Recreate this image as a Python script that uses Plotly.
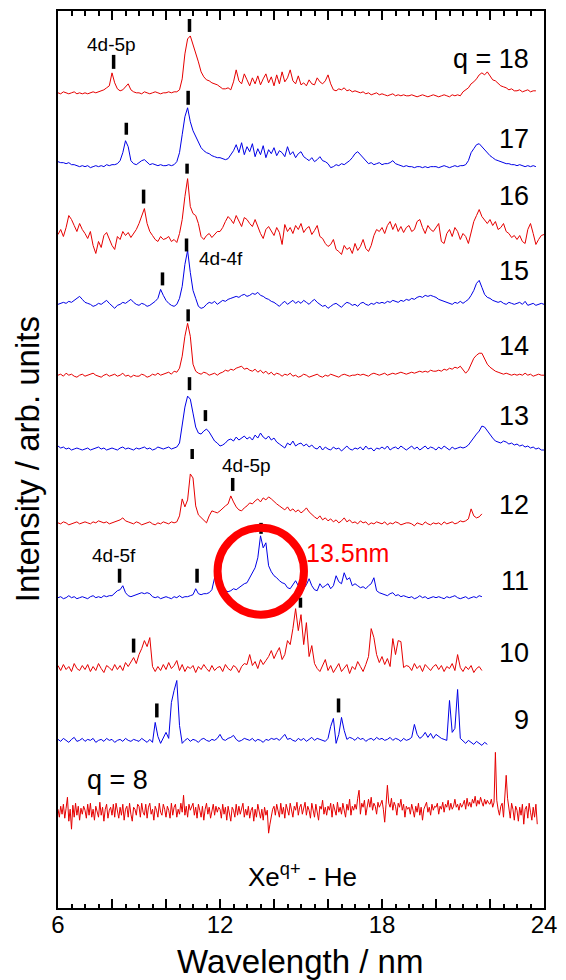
import numpy as np
import plotly.graph_objects as go

# ---------------- data (heights above each trace's own baseline, arb. units) ----------------
start = 6.0
step = 0.1          # sampling of most spectra (nm)
step_fine = 0.05    # sampling of the q = 8 spectrum (nm)

q18 = [1,0,2,1,0,1,2,0,1,0, 1,0,1,2,1,2,3,4,6,8, 21,11,5,3,4,7,10,4,2,1, 1,0,2,1,0,1,2,1,0,1,
       1,2,1,2,2,4,15,40,55,58, 50,40,32,22,17,14,13,11,10,9, 7,5,5,6,4,12,24,13,10,20,
       14,8,16,10,18,9,15,20,11,17, 8,19,10,22,12,16,24,13,10,18, 9,11,8,14,10,9,16,12,10,13,
       19,10,4,3,5,4,6,3,4,2, 3,2,1,2,0,1,-1,0,1,-1, 0,-1,-2,-1,0,-2,-1,-2,-1,-2,
       -2,-1,-2,-3,-2,-1,-2,-3,-2,-1, -2,-3,-2,-1,-2,-3,-1,-2,-1,-2, 2,4,6,10,12,15,19,21,19,22,
       18,14,13,10,8,7,6,4,5,3, 3,4,2,3,4,2,3,3]
q17 = [5,4,4,3,4,2,2,1,0,1, 0,1,-1,0,1,0,1,0,2,1, 2,2,3,6,14,26,20,6,3,2, 4,6,7,4,2,3,2,1,2,1,
       1,2,1,2,5,14,32,50,59,45, 36,30,24,19,16,14,13,11,10,9, 9,8,7,8,12,16,22,14,24,12,
       20,15,23,10,18,12,21,9,17,13, 19,11,16,14,10,20,12,15,9,13, 15,10,8,6,9,5,7,10,6,5,
       3,-1,0,2,1,3,2,4,6,9, 13,15,12,8,5,3,4,2,3,4, 2,3,3,4,6,3,2,1,0,1,
       0,0,-1,0,0,-1,0,-1,0,0, 0,-1,0,1,0,-1,0,1,0,1, 1,2,6,14,18,22,23,20,16,13,
       11,9,7,6,5,4,3,3,2,2, 1,2,1,0,1,0,1,0]
q16 = [7,12,5,14,26,22,16,10,18,12, 8,3,10,-4,-12,0,-6,6,9,2, -4,-8,5,2,10,6,9,4,8,12,
       18,26,33,18,10,6,2,0,5,2, 3,5,0,2,-1,8,22,45,63,35, 28,26,18,5,2,6,8,4,7,10,
       10,14,20,25,22,18,26,20,15,24, 22,18,15,22,14,8,3,12,15,10, 6,14,9,-3,17,10,14,8,16,12,
       18,9,13,15,7,11,16,5,3,-2, -5,-3,2,-8,-10,-13,-4,-8,-6,-12, -2,-9,-5,2,-7,-10,-4,6,12,10,
       14,8,16,20,12,18,10,15,9,14, 16,10,12,20,22,14,8,16,12,10, 14,18,0,-2,8,12,5,14,10,2,
       8,5,-2,10,20,26,32,25,22,18, 22,16,20,12,14,18,10,8,4,6, 2,6,0,-2,12,18,8,-3,2,6, 7]
q15 = [0,1,2,1,3,2,4,6,8,5, 2,1,0,-2,-1,1,0,2,4,1, -2,-4,-1,0,2,1,3,5,2,0, -1,1,0,-2,-1,1,3,6,15,9,
       4,1,-1,-2,0,6,18,40,54,32, 14,6,-2,-4,-3,0,2,1,3,0, 2,4,3,5,6,7,8,7,9,10,
       8,9,11,10,12,9,8,6,5,3, 2,0,-2,1,3,0,2,4,1,3, 1,4,2,0,3,5,2,0,-2,-1,
       -4,-2,0,1,-1,-3,0,2,1,-1, 0,-2,1,2,0,-1,1,0,2,1, 2,1,3,2,4,3,2,4,3,5,
       4,6,5,7,8,7,9,8,9,8, 7,5,4,3,2,1,0,2,1,3, 1,3,5,9,14,21,24,17,10,7,
       6,4,3,2,3,1,0,2,1,0, 1,2,0,3,-1,0,1,-1,0,1, 0]
q14 = [1,2,0,3,1,2,0,-1,1,2, 0,1,2,3,1,0,-1,1,2,0, 1,2,0,1,3,0,1,-1,1,0, 0,2,1,-1,0,2,1,3,1,2,
       3,4,2,5,4,8,20,40,53,40, 12,5,3,2,4,3,1,2,3,1, 3,4,6,5,7,6,8,9,10,7,
       8,6,5,7,4,6,3,5,2,4, 1,3,2,0,2,1,3,0,1,-1, 0,2,1,-1,0,1,2,0,-1,1,
       0,2,1,0,-1,1,2,1,0,1, 1,2,1,2,1,0,2,3,2,1, 2,3,1,2,3,2,3,4,3,2,
       3,4,3,4,5,4,5,4,6,5, 5,6,5,7,6,8,7,9,8,10, 7,3,6,12,18,21,23,23,18,12,
       9,7,5,4,3,2,3,2,1,2, 1,2,1,3,1,2,0,1,2,1, 1]
q13 = [3,1,2,0,1,-1,0,1,0,-1, 0,1,-1,0,1,2,0,1,-1,0, 1,0,-1,1,2,0,1,0,-1,1, 0,1,2,0,1,-1,0,2,1,0,
       1,2,0,1,2,6,22,42,53,50, 36,22,16,15,18,20,17,12,8,6, 3,4,6,9,10,8,12,9,11,13,
       10,12,9,14,11,16,12,10,13,9, 11,7,5,3,1,6,4,8,3,5, 6,3,5,2,4,1,0,3,-1,2,
       0,-1,2,0,1,-2,1,3,0,-1, 1,0,2,-1,3,0,1,-2,1,0, 2,0,3,-1,1,2,0,3,1,-1,
       1,3,0,2,-1,1,3,0,2,1, -1,2,0,3,1,-1,2,0,1,2, 1,2,4,8,12,15,18,23,22,18,
       15,11,8,7,6,8,7,5,6,4, 5,3,4,2,3,1,2,0,1,-1, -1]
q12 = [1,0,2,1,-1,0,1,2,0,1, 2,1,0,2,1,3,2,1,2,0, 1,2,3,4,6,3,2,1,0,2, 1,-1,0,1,2,0,-1,1,0,2,
       1,0,2,1,2,8,25,17,24,50, 46,18,9,6,3,1,8,13,12,11, 13,16,18,20,28,22,17,14,13,16,
       18,21,20,23,25,22,26,24,27,25, 22,20,18,16,14,17,13,15,12,14, 11,13,16,12,9,7,5,8,4,6,
       3,5,2,4,1,3,6,2,4,1, 2,0,3,1,2,-1,1,0,2,1, 0,2,-1,1,0,2,1,-1,0,1,
       1,0,-2,1,0,-1,2,0,-1,1, 0,1,-1,2,0,1,2,0,1,3, 2,3,5,15,8,6,7,10]
q11 = [0,1,-1,0,2,0,1,-1,0,1, 0,-1,1,2,0,1,0,2,1,2, 2,5,7,8,12,5,2,1,2,3, 4,5,4,5,4,1,0,1,-1,0,
       1,0,-1,1,0,2,0,1,1,2, 3,9,4,3,4,4,5,8,20,14, 10,8,7,6,7,9,8,10,12,14,
       15,20,24,30,40,62,50,55,32,26, 22,20,17,15,14,10,9,13,17,12, 7,9,13,19,12,8,7,14,10,12,
       14,9,12,22,16,14,25,18,20,12, 14,12,10,11,9,12,14,20,7,5, 4,3,2,4,5,2,3,1,2,1,
       0,1,-1,0,2,0,1,-1,0,1, 0,1,0,-1,1,0,1,2,0,-1, 0,1,-1,0,1,0,2,1]
q10 = [3,-2,4,-1,2,-3,5,0,-2,3, -1,4,-3,2,-2,5,0,-4,3,1, -2,4,-1,3,-2,6,2,7,11,5,
       14,20,28,22,31,2,-3,2,-2,4, -1,6,0,3,8,-2,4,-3,2,0, 3,-4,2,-1,4,0,-3,3,-2,1,
       2,-3,4,0,-2,3,1,-4,2,5, 4,14,3,7,0,9,4,8,12,18, 10,16,21,9,14,28,24,40,60,38,
       54,24,46,12,23,5,0,-3,4,9, -2,3,-4,1,5,-3,0,4,-5,2, -1,7,2,-3,4,12,40,31,14,6,
       12,4,10,2,30,14,28,27,1,3, 2,-2,5,0,3,-3,4,1,-2,2, 4,-1,3,-3,2,0,5,-2,14,1,
       -3,2,-1,3,-4,0,2,-2]
q9 = [1,-1,2,0,-2,1,3,-1,0,2, -1,1,0,2,-2,0,1,-1,2,0, 1,-2,0,1,-1,2,0,-1,1,0,
      -1,2,0,-2,1,-2,18,4,-3,3, 8,2,38,50,60,15,-3,0,2,-1, 1,0,-2,1,2,0,-1,1,0,2,
      6,1,0,2,3,5,1,-1,0,2, 1,0,2,-1,1,0,-2,1,0,2, 1,2,0,3,6,1,2,0,-1,2,
      0,2,-1,1,3,0,2,1,0,-1, 2,14,22,-3,6,23,10,1,3,2, 0,3,1,2,-1,1,2,0,3,1,
      2,0,1,3,0,2,1,-1,2,0, 1,3,16,6,2,4,8,3,7,2, 6,4,2,1,0,40,8,12,51,2,
      -1,-3,0,-2,-4,-1,-3,-5,-2,-4]
q8 = [3,-5,6,-2,8,-6,4,15,-9,3,-17,7,-5,9,-3,6,-8,4,-2,6,
      2,-6,8,-3,9,-5,3,-8,6,0,-5,10,-3,5,-9,3,8,-6,2,5,
      -3,8,-5,9,2,-6,5,-3,8,-8,3,6,-5,9,-2,-9,5,3,-3,8,
      6,-5,9,0,-3,8,-6,5,9,-2,3,-8,6,2,-5,9,0,-3,8,3,
      -5,6,2,-6,9,-3,5,8,-5,3,-2,9,0,17,-3,6,-5,8,2,5,
      9,-3,5,-6,8,2,-5,6,-8,3,9,-2,5,-6,3,8,-3,6,0,5,
      3,-6,8,-2,5,-8,6,0,-9,5,2,-5,8,-3,6,-2,5,9,-5,3,
      -3,6,-6,2,5,-9,3,-5,8,0,-6,3,-8,5,-3,2,-21,-12,-5,3,
      6,-3,8,2,-5,9,-2,5,-6,8,3,-3,9,0,-5,6,2,10,-3,5,
      8,-2,5,10,-3,6,2,-6,9,3,-5,8,0,-8,6,3,12,-2,5,-3,
      6,2,9,-5,8,3,-3,10,0,5,-2,9,3,-5,8,2,13,-3,6,2,
      8,3,14,22,-2,9,5,12,-3,8,13,5,15,2,9,6,-2,10,5,8,
      12,3,-10,8,27,9,5,14,2,10,6,-3,9,5,13,2,8,-5,6,3,
      5,-2,8,2,-5,6,0,9,-3,5,-8,3,6,10,0,5,-3,8,2,6,
      5,9,-2,6,3,10,0,8,5,12,2,9,3,6,13,5,8,2,9,5,
      8,12,3,14,6,10,5,13,9,16,6,12,8,15,10,6,13,8,12,9,
      8,13,5,10,60,12,3,-3,6,9,-5,12,37,14,5,-6,9,3,-8,6,
      2,-9,5,-3,8,-12,3,6,-6,9,0,-8,5,-5,8,-12]

charges = [18, 17, 16, 15, 14, 13, 12, 11, 10, 9, 8]
spectra = [q18, q17, q16, q15, q14, q13, q12, q11, q10, q9, q8]
steps = [step] * 10 + [step_fine]
offsets = [816, 743, 668, 605, 533, 460, 385, 311, 240, 168, 96]
colors = ["#e60000", "#0000e6"] * 5 + ["#e60000"]

# line identifications: (wavelength nm, y bottom, y top) in the stacked y units
line_ids = [(8.06, 841, 855), (10.87, 878, 891),
            (8.53, 775, 787), (10.82, 805, 819),
            (9.17, 706, 720), (10.78, 736, 746),
            (9.87, 624, 637), (10.76, 658, 671),
            (10.82, 588, 600),
            (10.87, 519, 532), (11.46, 488, 499),
            (10.97, 450, 460), (12.47, 418, 431),
            (8.28, 326, 340), (11.15, 326, 340), (13.52, 375, 386),
            (8.80, 256, 270), (14.98, 301, 311),
            (9.66, 191, 205), (16.39, 196, 210)]

label_y = [851, 771, 714, 638, 563, 493, 404, 328, 256, 188]

FONT = "Arial, 'Liberation Sans', Helvetica, sans-serif"

fig = go.Figure()
for vals, off, col, st in zip(spectra, offsets, colors, steps):
    x = np.round(start + st * np.arange(len(vals)), 3)
    y = off + np.array(vals, dtype=float)
    fig.add_trace(go.Scatter(x=x, y=y, mode="lines", line=dict(color=col, width=1),
                             hoverinfo="skip", showlegend=False))
# carriers for the extra (label / top-tick) axes
fig.add_trace(go.Scatter(x=[6, 24], y=[None, None], xaxis="x2", mode="lines",
                         hoverinfo="skip", showlegend=False))
fig.add_trace(go.Scatter(x=[6, 24], y=[None, None], xaxis="x3", mode="lines",
                         hoverinfo="skip", showlegend=False))

shapes = []
for lam, y0, y1 in line_ids:
    shapes.append(dict(type="line", xref="x", yref="y", x0=lam, x1=lam, y0=y0, y1=y1,
                       line=dict(color="black", width=3.5)))
# red circle around 13.5 nm
shapes.append(dict(type="circle", xref="x", yref="y", x0=13.51 - 1.6, x1=13.51 + 1.6,
                   y0=337.5 - 43.5, y1=337.5 + 43.5, line=dict(color="#ff0000", width=8)))

ann = []
for q, ly in zip(charges[:-1], label_y):
    txt = "q = 18" if q == 18 else str(q)
    ann.append(dict(x=23.52, y=ly, xref="x", yref="y", text=txt, showarrow=False,
                    xanchor="right", yanchor="middle", font=dict(size=27, color="black", family=FONT)))
ann.append(dict(x=6.99, y=128, xref="x", yref="y", text="q = 8", showarrow=False,
                xanchor="left", yanchor="middle", font=dict(size=27, color="black", family=FONT)))
for txt, lx, ly in [("4d-5p", 7.98, 865), ("4d-4f", 12.03, 651), ("4d-5p", 12.98, 443), ("4d-5f", 8.09, 353)]:
    ann.append(dict(x=lx, y=ly, xref="x", yref="y", text=txt, showarrow=False,
                    xanchor="center", yanchor="middle", font=dict(size=19, color="black", family=FONT)))
ann.append(dict(x=16.73, y=356, xref="x", yref="y", text="13.5nm", showarrow=False,
                xanchor="center", yanchor="middle", font=dict(size=25, color="#ff0000", family=FONT)))
ann.append(dict(x=15.04, y=33, xref="x", yref="y", text="Xe<sup>q+</sup> - He", showarrow=False,
                xanchor="center", yanchor="middle", font=dict(size=26, color="black", family=FONT)))
ann.append(dict(x=-0.0612, y=0.5006, xref="paper", yref="paper", text="Intensity / arb. units",
                textangle=-90, showarrow=False, xanchor="center", yanchor="middle",
                font=dict(size=33, color="black", family=FONT)))
ann.append(dict(x=0.498, y=-0.0601, xref="paper", yref="paper", text="Wavelength / nm",
                showarrow=False, xanchor="center", yanchor="middle",
                font=dict(size=33, color="black", family=FONT)))

major_ticks = [6, 8, 10, 12, 14, 16, 18, 20, 22, 24]
label_ticks = [6, 12, 18, 24]
minor = dict(dtick=0.5, tick0=6, ticks="inside", ticklen=4.5, tickwidth=1.5, tickcolor="black")

fig.update_layout(
    width=566, height=980,
    margin=dict(l=58, r=18, t=9, b=72),
    paper_bgcolor="white", plot_bgcolor="white",
    showlegend=False,
    shapes=shapes, annotations=ann,
    xaxis=dict(range=[6, 24], showgrid=False, zeroline=False, showline=True, linecolor="black",
               linewidth=2, mirror=True, ticks="inside", ticklen=9, tickwidth=1.5,
               tickcolor="black", tickvals=major_ticks, showticklabels=False, minor=minor),
    xaxis2=dict(range=[6, 24], overlaying="x", side="bottom", anchor="y", showgrid=False,
                zeroline=False, showline=False, ticks="", tickvals=label_ticks,
                ticktext=[str(v) for v in label_ticks],
                tickfont=dict(size=24, color="black", family=FONT)),
    xaxis3=dict(range=[6, 24], overlaying="x", side="top", anchor="y", showgrid=False,
                zeroline=False, showline=False, ticks="inside", ticklen=9, tickwidth=1.5,
                tickcolor="black", tickvals=major_ticks, showticklabels=False, minor=minor),
    yaxis=dict(range=[0, 899], showgrid=False, zeroline=False, showline=True, linecolor="black",
               linewidth=2, mirror=True, ticks="", showticklabels=False),
)

fig.write_html("out.html")
